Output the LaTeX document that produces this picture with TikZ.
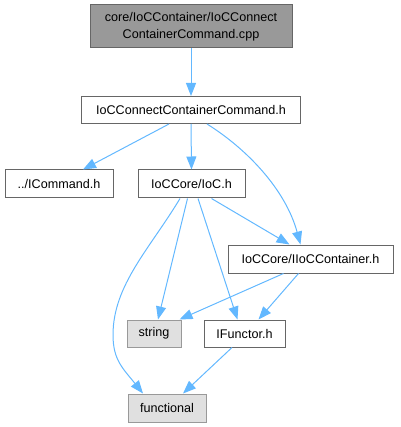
\documentclass[tikz,border=0pt]{standalone}
\usepackage{fontspec}
\setmainfont{Liberation Sans}
\usetikzlibrary{arrows.meta}
\definecolor{edgeblue}{HTML}{63B8FF}
\definecolor{boxborder}{HTML}{666666}
\definecolor{mainfill}{HTML}{999999}
\definecolor{extfill}{HTML}{E0E0E0}
\definecolor{extborder}{HTML}{999999}
\begin{document}
\begin{tikzpicture}[x=1pt,y=-1pt,
  box/.style={draw=boxborder, fill=white, line width=1pt, inner sep=0pt,
    font=\fontsize{12.6}{16.5}\selectfont, text=black},
  ext/.style={box, draw=extborder, fill=extfill},
  mainbox/.style={box, draw=boxborder, fill=mainfill, align=center},
  edge/.style={draw=edgeblue, line width=1pt, -{Triangle[length=13pt,width=10pt]}}]
\useasboundingbox (0,0) rectangle (400,427);
\node[mainbox, minimum width=202pt, minimum height=43pt] (top) at (191,26.5) {core/IoCContainer/IoCConnect\\ContainerCommand.cpp};
\node[box, minimum width=219pt, minimum height=27pt] (ccmd) at (191,110) {IoCConnectContainerCommand.h};
\node[box, minimum width=108pt, minimum height=28pt] (icmd) at (59,184) {../ICommand.h};
\node[box, minimum width=107pt, minimum height=28pt] (ioc) at (191.5,184) {IoCCore/IoC.h};
\node[box, minimum width=165pt, minimum height=28pt] (iioc) at (310.5,259) {IoCCore/IIoCContainer.h};
\node[ext, minimum width=54pt, minimum height=27pt] (str) at (154,333.5) {string};
\node[box, minimum width=81pt, minimum height=27pt] (ifun) at (244.5,333.5) {IFunctor.h};
\node[ext, minimum width=78pt, minimum height=28pt] (func) at (167,408) {functional};

\draw[edge] (top.south) -- (ccmd.north);
\draw[edge] ([xshift=-22pt]ccmd.south) -- ([xshift=24pt]icmd.north);
\draw[edge] (ccmd.south) -- (ioc.north);
\draw[edge] ([xshift=16pt]ccmd.south) .. controls +(40,25) and +(-15,-55) .. ([xshift=-10pt]iioc.north);
\draw[edge] ([xshift=20pt]ioc.south) -- ([xshift=-21pt]iioc.north);
\draw[edge] ([xshift=-4pt]ioc.south) -- ([xshift=4pt]str.north);
\draw[edge] ([xshift=6.5pt]ioc.south) -- ([xshift=-7pt]ifun.north);
\draw[edge] ([xshift=-11.5pt]ioc.south) .. controls +(-30,50) and +(0,-50) .. (113,335)
  .. controls +(0,25) and +(-20,-25) .. ([xshift=-24pt]func.north);
\draw[edge] ([xshift=-27pt]iioc.south) -- ([xshift=-2pt]str.north east);
\draw[edge] ([xshift=-12pt]iioc.south) -- ([xshift=14pt]ifun.north);
\draw[edge] ([xshift=-12.5pt]ifun.south) -- ([xshift=16pt]func.north);
\end{tikzpicture}
\end{document}
